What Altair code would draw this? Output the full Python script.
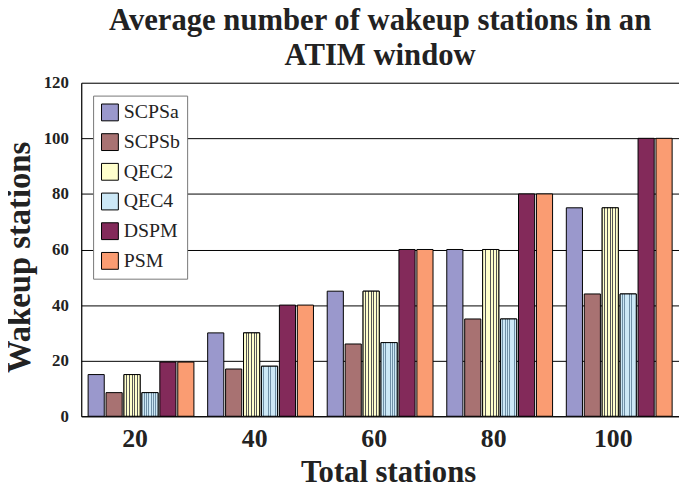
import altair as alt
import pandas as pd

categories = ["20", "40", "60", "80", "100"]
series = ["SCPSa", "SCPSb", "QEC2", "QEC4", "DSPM", "PSM"]
scpsa = [15, 30, 45, 60, 75]
scpsb = [8.5, 17, 26, 35, 44]
qec2 = [15, 30, 45, 60, 75]
qec4 = [8.5, 18, 26.5, 35, 44]
dspm = [19.5, 40, 60, 80, 100]
psm = [19.5, 40, 60, 80, 100]
colors = ["#9a98cc", "#a87272", "#ffffcc", "#cce8f6", "#832a5a", "#fa9c72"]

values = [scpsa, scpsb, qec2, qec4, dspm, psm]
rows = []
for s, vals in zip(series, values):
    for c, v in zip(categories, vals):
        rows.append({"stations": c, "series": s, "value": v})
df = pd.DataFrame(rows)

FONT = "'Times New Roman', 'Liberation Serif', Tinos, Times, serif"


def stripes(base, line, n, half):
    stops = [alt.GradientStop(offset=0, color=base)]
    for i in range(1, n):
        p = i / n
        stops += [alt.GradientStop(offset=p - half, color=base),
                  alt.GradientStop(offset=p - half, color=line),
                  alt.GradientStop(offset=p + half, color=line),
                  alt.GradientStop(offset=p + half, color=base)]
    stops.append(alt.GradientStop(offset=1, color=base))
    return alt.Gradient(gradient="linear", stops=stops, x1=0, x2=1, y1=0, y2=0)


x_enc = alt.X("stations:N", sort=categories,
              scale=alt.Scale(paddingInner=0.1, paddingOuter=0.05),
              axis=alt.Axis(title="Total stations", labelAngle=0, ticks=False,
                            labelFont=FONT, labelFontSize=26, labelFontWeight="bold",
                            labelColor="#222", labelPadding=10, labelOffset=-6,
                            titleFont=FONT, titleFontSize=31, titleFontWeight="bold",
                            titleColor="#222", titlePadding=6, titleX=310,
                            domainColor="black", domainWidth=1.2))
xo_enc = alt.XOffset("series:N", sort=series,
                     scale=alt.Scale(paddingInner=0.1, paddingOuter=0.05))
y_enc = alt.Y("value:Q", scale=alt.Scale(domain=[0, 120]),
              axis=alt.Axis(title="Wakeup stations", values=[0, 20, 40, 60, 80, 100, 120],
                            ticks=False, grid=True, gridColor="black", gridWidth=1,
                            gridOpacity=1,
                            labelFont=FONT, labelFontSize=17, labelFontWeight="bold",
                            labelColor="#222", labelPadding=13,
                            titleFont=FONT, titleFontSize=33, titleFontWeight="bold",
                            titleColor="#222", titleX=-45, titleY=176,
                            domainColor="black", domainWidth=1.2))

bars = alt.Chart(df).mark_bar(stroke="black", strokeWidth=1).encode(
    x=x_enc, xOffset=xo_enc, y=y_enc,
    color=alt.Color("series:N", sort=series,
                    scale=alt.Scale(domain=series, range=colors),
                    legend=alt.Legend(title=None, orient="none", legendX=12, legendY=13,
                                      fillColor="white", strokeColor="#777",
                                      padding=7, symbolType="square", symbolSize=289,
                                      symbolStrokeColor="black", symbolStrokeWidth=1,
                                      symbolOpacity=1,
                                      labelFont=FONT, labelFontSize=20, labelColor="#222",
                                      labelOffset=4, rowPadding=8)),
)

qec2_layer = alt.Chart(df).transform_filter(alt.datum.series == "QEC2").mark_bar(
    stroke="black", strokeWidth=1, fill=stripes("#ffffcc", "#555555", 6, 0.03)
).encode(x=x_enc, xOffset=xo_enc, y=y_enc)

qec4_layer = alt.Chart(df).transform_filter(alt.datum.series == "QEC4").mark_bar(
    stroke="black", strokeWidth=1, fill=stripes("#cce8f6", "#6f8fa6", 7, 0.025)
).encode(x=x_enc, xOffset=xo_enc, y=y_enc)

chart = alt.layer(bars, qec2_layer, qec4_layer).properties(
    width=604,
    height=337,
    title=alt.Title(["Average number of wakeup stations in an", "ATIM window"],
                    font=FONT, fontSize=31, fontWeight="bold", color="#222",
                    lineHeight=35, offset=2),
    padding={"left": 74, "top": 73, "right": 0, "bottom": 72},
    autosize=alt.AutoSizeParams(type="none"),
).configure_view(stroke=None).configure(background="white")

chart.save("out.html", embed_options={"renderer": "svg", "actions": False})
